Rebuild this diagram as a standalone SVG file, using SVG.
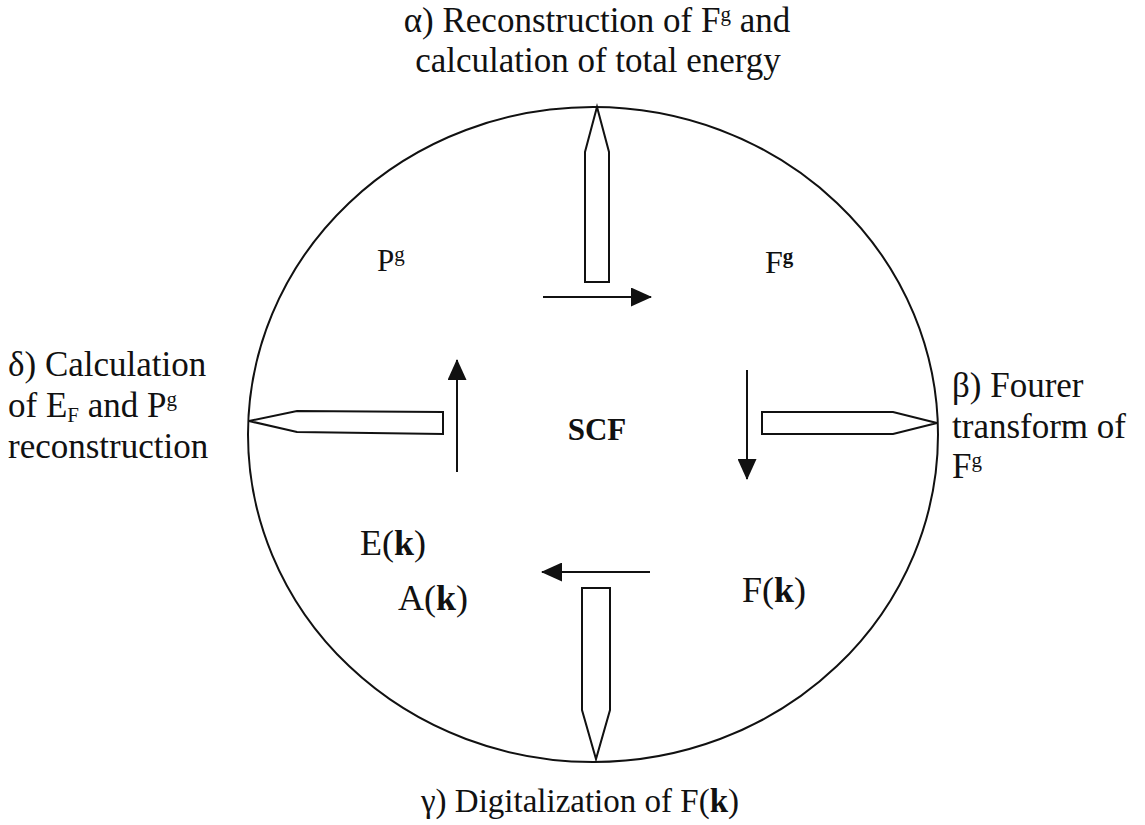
<svg xmlns="http://www.w3.org/2000/svg" width="1145" height="825" viewBox="0 0 1145 825">
<style>
text{font-family:"Liberation Serif","Times New Roman",serif;font-size:35px;fill:#111}
.b{font-weight:bold}
.sup{font-size:21px}
.node{font-size:36px}
.ptr{fill:#fff;stroke:#111;stroke-width:2;stroke-linejoin:miter}
.ln{stroke:#111;stroke-width:2;fill:none}
</style>
<defs>
<marker id="ah" markerWidth="22" markerHeight="19" refX="20" refY="9.5" orient="auto" markerUnits="userSpaceOnUse">
<path d="M0,0 L21,9.5 L0,19 Z" fill="#111"/>
</marker>
</defs>
<rect width="1145" height="825" fill="#fff"/>
<g id="cycle">
<ellipse cx="593" cy="434.5" rx="345" ry="327.5" fill="none" stroke="#111" stroke-width="2"/>
</g>
<g id="pointers">
<path class="ptr" d="M585,282 L585,152 L597,107 L609,152 L609,282 Z"/>
<path class="ptr" d="M762,412 L893,412 L937,423 L893,434 L762,434 Z"/>
<path class="ptr" d="M610,588 L610,710 L596,759 L582,710 L582,588 Z"/>
<path class="ptr" d="M443,412 L297,411 L249,421 L297,432 L443,434 Z"/>
</g>
<g id="connectors">
<line class="ln" x1="543" y1="297" x2="651" y2="297" marker-end="url(#ah)"/>
<line class="ln" x1="747" y1="370" x2="747" y2="479" marker-end="url(#ah)"/>
<line class="ln" x1="650" y1="572" x2="542" y2="572" marker-end="url(#ah)"/>
<line class="ln" x1="457" y1="472" x2="457" y2="360" marker-end="url(#ah)"/>
</g>
<g id="labels">
<text x="597" y="32" text-anchor="middle">α) Reconstruction of F<tspan class="sup" dy="-11">g</tspan><tspan dy="11"> and</tspan></text>
<text x="598" y="72" text-anchor="middle">calculation of total energy</text>
<text x="8" y="376">δ) Calculation</text>
<text x="8" y="417">of E<tspan class="sup" dy="5">F</tspan><tspan dy="-5"> and P</tspan><tspan class="sup" dy="-11">g</tspan></text>
<text x="8" y="458">reconstruction</text>
<text x="952" y="397">β) Fourer</text>
<text x="952" y="438">transform of</text>
<text x="952" y="478">F<tspan class="sup" dy="-11">g</tspan></text>
<text x="580" y="812" text-anchor="middle" style="font-size:33px">γ) Digitalization of F(<tspan class="b">k</tspan>)</text>
</g>
<g id="nodes">
<g id="node-Pg"><text x="377" y="271" style="font-size:31px">P<tspan class="sup" dy="-10">g</tspan></text></g>
<g id="node-Fg"><text x="765" y="273" style="font-size:32px">F<tspan class="sup b" dy="-10">g</tspan></text></g>
<g id="node-SCF"><text class="b" x="597" y="440" style="font-size:31px" text-anchor="middle">SCF</text></g>
<g id="node-Ek"><text class="node" x="360" y="555">E(<tspan class="b">k</tspan>)</text></g>
<g id="node-Ak"><text class="node" x="398" y="610">A(<tspan class="b">k</tspan>)</text></g>
<g id="node-Fk"><text class="node" x="742" y="602">F(<tspan class="b">k</tspan>)</text></g>
</g>
</svg>
